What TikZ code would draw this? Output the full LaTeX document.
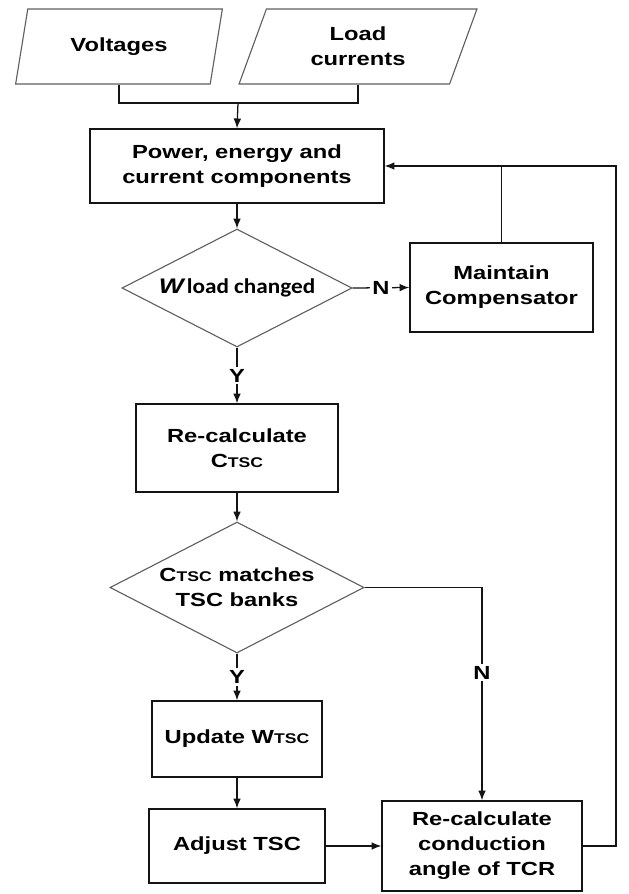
\documentclass[tikz,border=0pt]{standalone}
\usepackage{fontspec}
\setmainfont{Liberation Sans}[FakeStretch=1.25]
\newfontfamily\calfont{Carlito}[FakeStretch=1.1]
\usetikzlibrary{shapes.geometric,arrows.meta}
\definecolor{fcline}{RGB}{20, 20, 20}
\definecolor{fcgray}{RGB}{95, 95, 95}
\newcommand{\tscsub}{{\fontsize{10}{12}\selectfont TSC}}

\begin{document}
\begin{tikzpicture}[
    x=0.025cm, y=-0.025cm,
    txt/.style={font=\bfseries\fontsize{13.5}{17.8}\selectfont, align=center},
    procbox/.style={txt, rectangle, draw=fcline, line width=0.9pt, inner sep=0pt},
    iobox/.style={txt, trapezium, trapezium left angle=70, trapezium right angle=110,
                  trapezium stretches=true, draw=fcgray, line width=0.8pt, inner sep=0pt},
    decision/.style={txt, diamond, draw=fcgray, line width=0.8pt, inner sep=0pt},
    link/.style={draw=fcline, line width=0.9pt},
    flow/.style={link, -{Latex[length=7pt, width=5.5pt]}},
    lbl/.style={txt, fill=white, inner sep=1.5pt},
]

\def\pxu{0.025cm} % one reference pixel

\useasboundingbox (0,0) rectangle (629,894);

% ================================================================
% INPUTS
% ================================================================
\node[iobox, minimum width=208*\pxu, minimum height=75*\pxu]
  (volt) at (119, 46.5) {Voltages};
\node[iobox, minimum width=238*\pxu, minimum height=75*\pxu]
  (load) at (358, 46.5) {Load\\currents};
\coordinate (join) at (238, 103);

% ================================================================
% MAIN COLUMN
% ================================================================
\node[procbox, minimum width=294*\pxu, minimum height=74*\pxu]
  (power) at (237, 166) {Power, energy and\\current components};

\node[decision, shape aspect=1.95, minimum width=230*\pxu, minimum height=118*\pxu]
  (wload) at (237, 288)
  {{\fontsize{15}{18}\selectfont\itshape W}\,{\calfont\fontsize{15}{18}\selectfont load changed}};

\node[procbox, minimum width=183*\pxu, minimum height=89*\pxu]
  (maint) at (501.5, 287.5) {Maintain\\Compensator};

\node[procbox, minimum width=202*\pxu, minimum height=88*\pxu]
  (recalc) at (237, 448) {Re-calculate\\C\tscsub};

\node[decision, shape aspect=1.94, minimum width=254*\pxu, minimum height=131*\pxu]
  (match) at (237, 587.5) {C\tscsub{} matches\\TSC banks};

\node[procbox, minimum width=170*\pxu, minimum height=76*\pxu]
  (update) at (237, 739) {Update W\tscsub};

\node[procbox, minimum width=176*\pxu, minimum height=74*\pxu]
  (adjust) at (237, 846) {Adjust TSC};

\node[procbox, minimum width=200*\pxu, minimum height=90*\pxu]
  (tcr) at (482, 846) {Re-calculate\\conduction\\angle of TCR};

\coordinate (back) at (616, 166);

% ================================================================
% CONNECTORS
% ================================================================
\draw[link] (volt.south) |- (join) -| (load.south);
\draw[flow] (join) -- (power.north);
\draw[flow] (power.south) -- (wload.north);
\draw[flow] (wload.east) -- node[lbl] {N} (maint.west);
\draw[link] (maint.north) -- (maint.north |- power.east);
\draw[flow] (wload.south) -- node[lbl] {Y} (recalc.north);
\draw[flow] (recalc.south) -- (match.north);
\draw[flow] (match.south) -- node[lbl] {Y} (update.north);
\draw[flow] (match.east) -| node[lbl, pos=0.70] {N} (tcr.north);
\draw[flow] (update.south) -- (adjust.north);
\draw[flow] (adjust.east) -- (tcr.west);

% feedback to the top block
\draw[flow] (tcr.east) -| (back) -- (power.east);

\end{tikzpicture}
\end{document}
